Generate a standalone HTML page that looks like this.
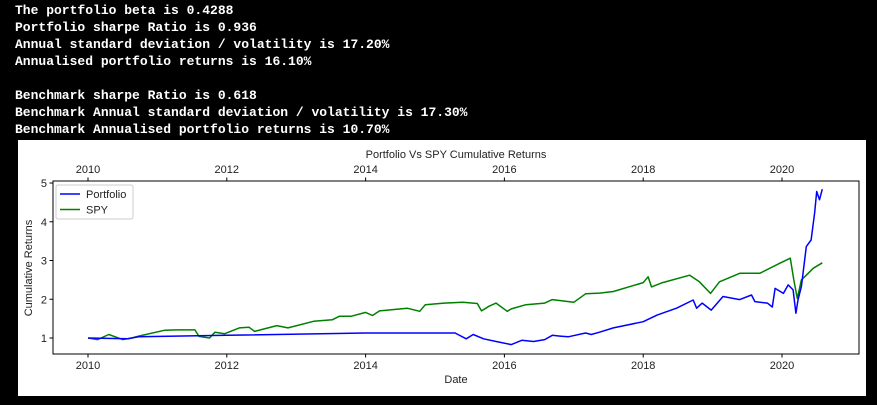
<!DOCTYPE html>
<html><head><meta charset="utf-8"><style>
body{margin:0;width:877px;height:405px;background:#000;overflow:hidden;position:relative}
#stats{position:absolute;left:15px;top:2px;color:#fff;font:bold 13px/17px "Liberation Mono",monospace;white-space:pre}
#fig{position:absolute;left:18px;top:140px}
text{font-family:"Liberation Sans",sans-serif;font-size:11px;fill:#222}
</style></head><body>
<div id="stats">The portfolio beta is 0.4288
Portfolio sharpe Ratio is 0.936
Annual standard deviation / volatility is 17.20%
Annualised portfolio returns is 16.10%

Benchmark sharpe Ratio is 0.618
Benchmark Annual standard deviation / volatility is 17.30%
Benchmark Annualised portfolio returns is 10.70%</div>
<svg id="fig" width="848" height="256">
<rect x="0" y="0" width="848" height="256" fill="#fff"/>
<g id="plot"></g>
</svg>
<script>
const yTicks=[1,2,3,4,5];
const xTicks=[2010,2012,2014,2016,2018,2020];
const portDates=[2010,2010.57,2010.73,2012,2014,2015.29,2015.45,2015.55,2015.7,2015.88,2016.1,2016.25,2016.42,2016.58,2016.69,2016.8,2016.92,2017.17,2017.25,2017.37,2017.57,2018.0,2018.2,2018.48,2018.72,2018.77,2018.85,2018.98,2019.15,2019.39,2019.56,2019.61,2019.79,2019.86,2019.9,2020.02,2020.09,2020.16,2020.2,2020.23,2020.28,2020.35,2020.42,2020.47,2020.5,2020.54,2020.58];
const portVals=[1.0,0.98,1.03,1.07,1.13,1.13,0.98,1.09,0.98,0.91,0.83,0.94,0.91,0.96,1.07,1.05,1.03,1.13,1.09,1.15,1.26,1.42,1.59,1.77,1.98,1.77,1.9,1.72,2.07,1.99,2.11,1.94,1.9,1.8,2.28,2.15,2.37,2.24,1.64,1.98,2.33,3.36,3.53,4.22,4.78,4.57,4.84];
const spyDates=[2010,2010.14,2010.3,2010.5,2010.63,2010.73,2011.1,2011.27,2011.54,2011.6,2011.75,2011.83,2011.97,2012.18,2012.32,2012.4,2012.72,2012.88,2013.25,2013.52,2013.62,2013.79,2014.0,2014.1,2014.2,2014.6,2014.78,2014.86,2015.13,2015.4,2015.61,2015.67,2015.78,2015.88,2016.04,2016.1,2016.31,2016.58,2016.69,2017.0,2017.17,2017.37,2017.57,2018.0,2018.07,2018.12,2018.28,2018.67,2018.81,2018.97,2019.1,2019.39,2019.68,2019.97,2020.12,2020.17,2020.22,2020.28,2020.35,2020.45,2020.58];
const spyVals=[1.0,0.96,1.09,0.96,1.0,1.05,1.2,1.21,1.21,1.04,1.0,1.15,1.11,1.26,1.28,1.17,1.32,1.26,1.43,1.47,1.56,1.56,1.66,1.58,1.7,1.77,1.69,1.86,1.9,1.92,1.89,1.7,1.82,1.9,1.69,1.75,1.86,1.9,1.99,1.92,2.14,2.16,2.2,2.43,2.58,2.32,2.43,2.62,2.45,2.15,2.45,2.67,2.67,2.93,3.06,2.5,2.02,2.5,2.62,2.8,2.94];
const OX=18,OY=140;
const L=53-OX,R=859-OX,T=181-OY,B=354-OY;
const xs=d=>88-OX+(d-2010)*69.4;
const ys=v=>338-OY-(v-1)*38.75;
const g=document.getElementById('plot');
const NS='http://www.w3.org/2000/svg';
function mk(t,a,p){const e=document.createElementNS(NS,t);for(const k in a)e.setAttribute(k,a[k]);(p||g).appendChild(e);return e;}
function line(dates,vals,color,name){
 const e=mk('polyline',{points:dates.map((d,i)=>xs(d).toFixed(1)+','+ys(vals[i]).toFixed(1)).join(' '),fill:'none',stroke:color,'stroke-width':1.5,'stroke-linejoin':'round'});
 
 
}
line(spyDates,spyVals,'#008000','spy-line');
line(portDates,portVals,'#0000ff','portfolio-line');
const box=mk('rect',{x:L,y:T,width:R-L,height:B-T,fill:'none',stroke:'#000','stroke-width':1});


yTicks.forEach(v=>{
 mk('line',{x1:L-3.5,x2:L,y1:ys(v),y2:ys(v),stroke:'#000'});
 const t=mk('text',{x:L-6,y:ys(v)+4,'text-anchor':'end'});t.textContent=v;
 
 
});
xTicks.forEach(d=>{
 mk('line',{x1:xs(d),x2:xs(d),y1:B,y2:B+3.5,stroke:'#000'});
 mk('line',{x1:xs(d),x2:xs(d),y1:T-3.5,y2:T,stroke:'#000'});
 const t=mk('text',{x:xs(d),y:B+15,'text-anchor':'middle'});t.textContent=d;
 
 
 const t2=mk('text',{x:xs(d),y:T-8,'text-anchor':'middle'});t2.textContent=d;
 
 
});
const ti=mk('text',{x:438,y:18,'text-anchor':'middle','font-size':'12.5px'});ti.textContent='Portfolio Vs SPY Cumulative Returns';


const xl=mk('text',{x:438,y:243,'text-anchor':'middle'});xl.textContent='Date';


const yl=mk('text',{x:14,y:128,'text-anchor':'middle',transform:'rotate(-90 14 128)'});yl.textContent='Cumulative Returns';


const lg=mk('g',{});


mk('rect',{x:L+3,y:T+4,width:77,height:34,fill:'#fff',stroke:'#ccc',rx:2},lg);
[['Portfolio','#0000ff'],['SPY','#008000']].forEach((s,i)=>{
 const y=T+13+i*15.5;
 mk('line',{x1:L+7,x2:L+27,y1:y,y2:y,stroke:s[1],'stroke-width':1.5},lg);
 const t=mk('text',{x:L+33,y:y+4},lg);t.textContent=s[0];
 
 
});
</script>
</body></html>
